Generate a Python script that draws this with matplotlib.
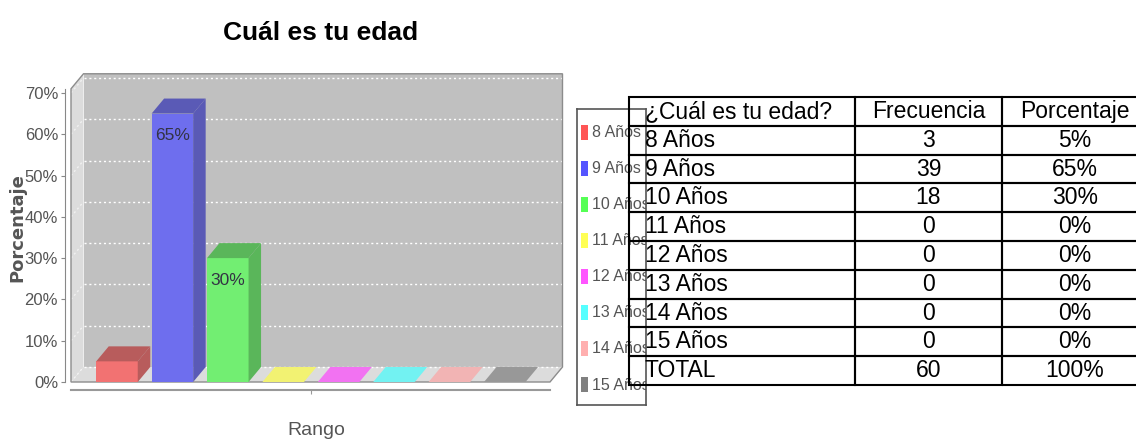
import matplotlib
matplotlib.use('Agg')
import matplotlib.pyplot as plt
from matplotlib.patches import Polygon, Rectangle

# datos de la encuesta
edades = ['8 Años', '9 Años', '10 Años', '11 Años', '12 Años', '13 Años', '14 Años', '15 Años']
frecuencia = [3, 39, 18, 0, 0, 0, 0, 0]
porcentaje = [5, 65, 30, 0, 0, 0, 0, 0]
total_frec = 60
total_pct = 100
yticks = [0, 10, 20, 30, 40, 50, 60, 70]

# colores tipo jfreechart
frente = ['#f27272', '#6e6eee', '#72ee72', '#f2f272', '#f272f2', '#72f2f2', '#f2b4b4', '#989898']
oscuro = ['#b85c5c', '#5a5ab6', '#5ab65a', '#b6b65a', '#b65ab6', '#5ab6b6', '#b68c8c', '#707070']
leyenda = ['#ff5555', '#5555ff', '#55ff55', '#ffff55', '#ff55ff', '#55ffff', '#ffafaf', '#808080']

NARROW = ['Liberation Sans', 'DejaVu Sans']
W, H = 1136, 446


def rect(xa, ya, xb, yb):
    # pixel box -> figure fraction
    return [xa / W, 1 - yb / H, (xb - xa) / W, (yb - ya) / H]


fig = plt.figure(figsize=(W / 100, H / 100), dpi=100)
fig.patch.set_facecolor('white')

px_cat = 55.4
px_pct = 4.13
dx = 12.5 / px_cat   # profundidad 3d
dy = 15 / px_pct
x0, x1 = -0.83, 7.816
top = 71
bw = 0.75

ax = fig.add_axes(rect(71, 382 - (top + dy) * px_pct, 71 + (x1 + dx - x0) * px_cat, 382))
ax.set_xlim(x0, x1 + dx)
ax.set_ylim(0, top + dy)
ax.patch.set_alpha(0)

# paredes y piso
ax.add_patch(Polygon([(x0 + dx, dy), (x1 + dx, dy), (x1 + dx, top + dy), (x0 + dx, top + dy)],
                     fc='#c0c0c0', ec='none', zorder=1))
ax.add_patch(Polygon([(x0, 0), (x0 + dx, dy), (x0 + dx, top + dy), (x0, top)],
                     fc='#dcdcdc', ec='none', zorder=1))
ax.add_patch(Polygon([(x0, 0), (x1, 0), (x1 + dx, dy), (x0 + dx, dy)],
                     fc='#dcdcdc', ec='none', zorder=1))
for v in yticks:
    ax.plot([x0 + dx, x1 + dx], [v + dy, v + dy], color='white', lw=1, ls=(0, (1.5, 2)), zorder=2)
    ax.plot([x0, x0 + dx], [v, v + dy], color='white', lw=1, ls=(0, (1.5, 2)), alpha=0.6, zorder=2)
ax.add_patch(Polygon([(x0, 0), (x0, top), (x0 + dx, top + dy), (x1 + dx, top + dy),
                      (x1 + dx, dy), (x1, 0)], closed=True, fc='none', ec='#8c8c8c',
                     lw=1, zorder=3, clip_on=False))

# barras 3d
for i, v in enumerate(porcentaje):
    l, r = i - bw / 2, i + bw / 2
    if v > 0:
        ax.add_patch(Rectangle((l, 0), bw, v, fc=frente[i], ec='none', zorder=4))
        ax.add_patch(Polygon([(r, 0), (r + dx, dy), (r + dx, v + dy), (r, v)],
                             fc=oscuro[i], ec='none', zorder=4))
    ax.add_patch(Polygon([(l, v), (r, v), (r + dx, v + dy), (l + dx, v + dy)],
                         fc=oscuro[i] if v > 0 else frente[i], ec='none', zorder=4))
    if v >= 10:
        ax.text(i, v - 3.6, f'{v}%', ha='center', va='top', size=12.5,
                family=NARROW, color='#333344', zorder=5)

# ejes
for s in ['top', 'right']:
    ax.spines[s].set_visible(False)
ax.spines['left'].set_position(('outward', 4.3))
ax.spines['left'].set_bounds(0, top)
ax.spines['left'].set_color('#888888')
ax.spines['bottom'].set_position(('outward', 5.8))
ax.spines['bottom'].set_bounds(x0, x1)
ax.spines['bottom'].set_color('#999999')
ax.spines['bottom'].set_linewidth(1.5)
ax.set_yticks(yticks, labels=[f'{v}%' for v in yticks])
ax.set_xticks([(len(edades) - 1) / 2], labels=[''])
ax.tick_params(axis='y', length=3, color='#888888', labelcolor='#555555', labelsize=12, pad=2)
ax.tick_params(axis='x', length=3, color='#999999')
for lab in ax.get_yticklabels():
    lab.set_family(NARROW)

ax.set_ylabel('Porcentaje', fontsize=13, fontweight='bold', color='#555555')
ax.yaxis.set_label_coords(-(71 - 17) / 491.5, (382 - 228) / 308.2)
ax.yaxis.label.set_va('center')
ax.set_xlabel('Rango', fontsize=14, family=NARROW, color='#555555')
ax.xaxis.set_label_coords((316 - 71) / 491.5, -(430 - 382) / 308.2)
ax.xaxis.label.set_va('center')

fig.text(321 / W, 1 - 33 / H, 'Cuál es tu edad', ha='center', va='center',
         size=19, weight='bold', family=NARROW)

# leyenda
lax = fig.add_axes(rect(577, 109, 646, 405))
lax.set_xlim(577, 646)
lax.set_ylim(405, 109)
lax.set_xticks([])
lax.set_yticks([])
for s in lax.spines.values():
    s.set_color('#555555')
    s.set_linewidth(1.2)
for i, e in enumerate(edades):
    y = 133 + 36 * i
    lax.add_patch(Rectangle((581, y - 7.5), 7, 15, fc=leyenda[i], ec='none'))
    lax.text(592, y, e, ha='left', va='center', size=11.5, family=NARROW,
             color='#555555', clip_on=True)

# tabla
tax = fig.add_axes(rect(629, 97, 1148, 385))
tax.axis('off')
filas = [[e, str(f), f'{p}%'] for e, f, p in zip(edades, frecuencia, porcentaje)]
filas.append(['TOTAL', str(total_frec), f'{total_pct}%'])
tabla = tax.table(cellText=filas, colLabels=['¿Cuál es tu edad?', 'Frecuencia', 'Porcentaje'],
                  cellLoc='center', colLoc='center', bbox=[0, 0, 1, 1],
                  colWidths=[226 / 519, 147 / 519, 146 / 519])
tabla.auto_set_font_size(False)
tabla.set_fontsize(16.5)
for (r, c), cell in tabla.get_celld().items():
    cell.set_edgecolor('black')
    cell.set_linewidth(1.5)
    cell.set_facecolor('none')
    cell.get_text().set_family(['Liberation Sans', 'DejaVu Sans'])
    if c == 0:
        cell.get_text().set_ha('left')
        cell.PAD = 0.07

fig.savefig('out.png', dpi=100, facecolor='white')
